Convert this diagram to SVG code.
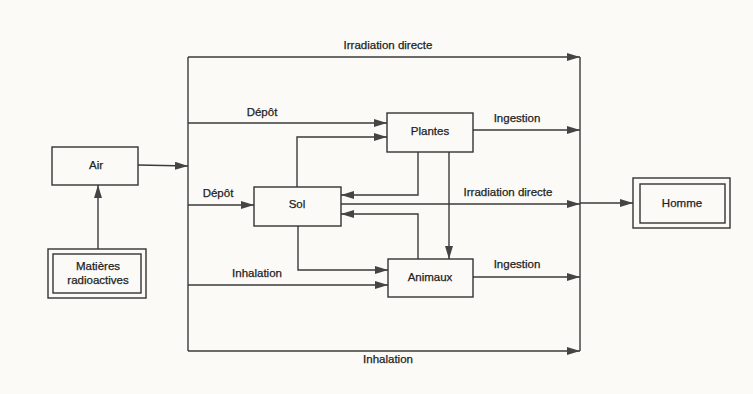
<svg xmlns="http://www.w3.org/2000/svg" width="753" height="394" viewBox="0 0 753 394">
<style>
.bg{fill:#fbfaf7}
.box{fill:#fbfaf7;stroke:#333;stroke-width:1.4}
.ln{fill:none;stroke:#3a3a3a;stroke-width:1.4}
text{font-family:"Liberation Sans",Arial,sans-serif;font-size:11.5px;fill:#222;stroke:#222;stroke-width:0.25;text-anchor:middle;dominant-baseline:central}
</style>
<defs>
<marker id="ah" markerWidth="13" markerHeight="8" refX="13" refY="4" orient="auto" markerUnits="userSpaceOnUse">
<path d="M0,0 L13,4 L0,8 Z" fill="#444"/>
</marker>
</defs>
<rect class="bg" x="0" y="0" width="753" height="394"/>
<g id="connectors">
<path class="ln" d="M98,249 V185" marker-end="url(#ah)"/>
<path class="ln" d="M138,165 L188,166" marker-end="url(#ah)"/>
<path class="ln" d="M188,57 V351"/>
<path class="ln" d="M580,57 V351"/>
<path class="ln" d="M188,57 H580" marker-end="url(#ah)"/>
<path class="ln" d="M188,123 H387" marker-end="url(#ah)"/>
<path class="ln" d="M297,187 V137 H387" marker-end="url(#ah)"/>
<path class="ln" d="M473,130 H580" marker-end="url(#ah)"/>
<path class="ln" d="M418,152 V195 H341" marker-end="url(#ah)"/>
<path class="ln" d="M449,152 V259" marker-end="url(#ah)"/>
<path class="ln" d="M188,205 H254" marker-end="url(#ah)"/>
<path class="ln" d="M341,204 H580" marker-end="url(#ah)"/>
<path class="ln" d="M580,203 H633" marker-end="url(#ah)"/>
<path class="ln" d="M418,259 V214 H341" marker-end="url(#ah)"/>
<path class="ln" d="M298,226 V270 H388" marker-end="url(#ah)"/>
<path class="ln" d="M188,285 H388" marker-end="url(#ah)"/>
<path class="ln" d="M473,277 H580" marker-end="url(#ah)"/>
<path class="ln" d="M188,351 H580" marker-end="url(#ah)"/>
<text x="388" y="45">Irradiation directe</text>
<text x="262" y="112">Dépôt</text>
<text x="517" y="118">Ingestion</text>
<text x="218" y="193">Dépôt</text>
<text x="508" y="192">Irradiation directe</text>
<text x="257" y="273">Inhalation</text>
<text x="517" y="264">Ingestion</text>
<text x="388" y="359">Inhalation</text>
</g>
<g id="air">
<rect class="box" x="52" y="147" width="86" height="38"/>
<text x="96" y="165">Air</text>
</g>
<g id="matieres">
<rect class="box" x="48" y="249" width="98" height="49"/>
<rect class="box" x="53" y="254" width="88" height="39"/>
<text x="98" y="266">Matières</text>
<text x="98" y="280">radioactives</text>
</g>
<g id="plantes">
<rect class="box" x="387" y="113" width="86" height="39"/>
<text x="430" y="131">Plantes</text>
</g>
<g id="sol">
<rect class="box" x="254" y="187" width="87" height="39"/>
<text x="297" y="204">Sol</text>
</g>
<g id="animaux">
<rect class="box" x="388" y="259" width="85" height="38"/>
<text x="430" y="277">Animaux</text>
</g>
<g id="homme">
<rect class="box" x="633" y="178" width="97" height="50"/>
<rect class="box" x="640" y="184" width="85" height="39"/>
<text x="682" y="203">Homme</text>
</g>
</svg>
